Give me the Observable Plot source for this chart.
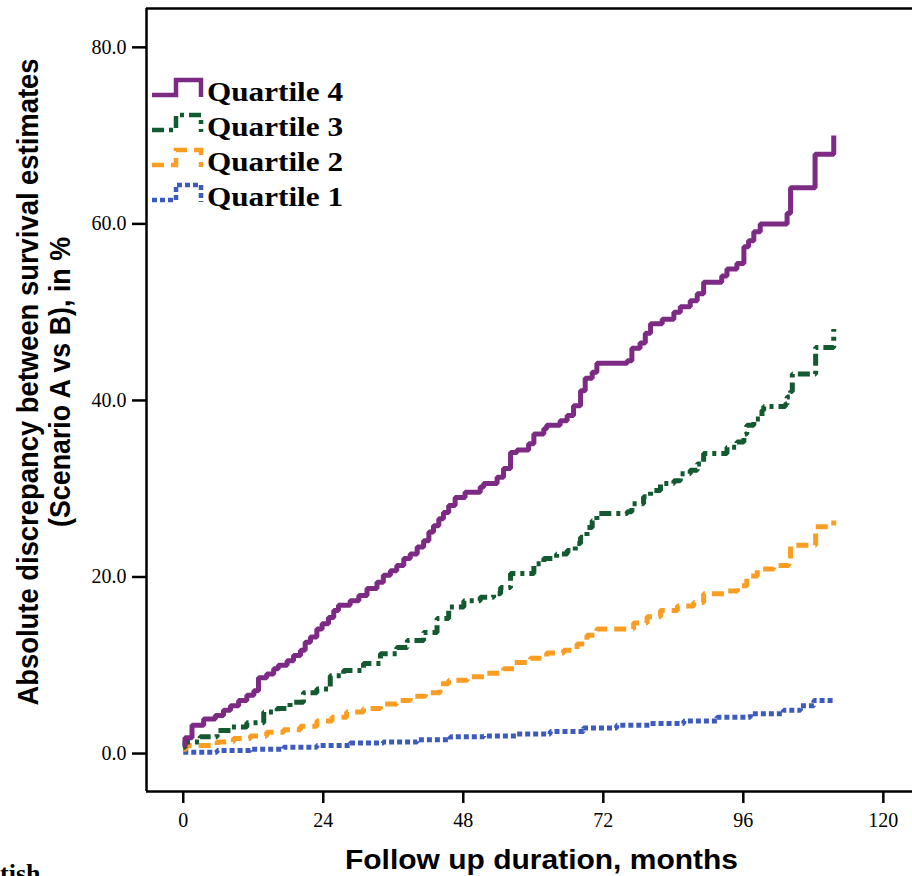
<!DOCTYPE html>
<html><head><meta charset="utf-8">
<script src="https://cdn.jsdelivr.net/npm/d3@7"></script>
<script src="https://cdn.jsdelivr.net/npm/@observablehq/plot@0.6"></script>
<style>html,body{margin:0;padding:0;background:#fff;overflow:hidden}</style>
</head><body><div id="chart"></div>
<script>
// ---- data ----
const seriesNames = ["Quartile 4", "Quartile 3", "Quartile 2", "Quartile 1"];
const seriesColors = ["#7d2a85", "#145a30", "#fa9d22", "#3d5bbf"];
const seriesDashes = ["none", "12,5,4,5", "12,7", "5,3"];

const q4Months = [0,0.3,1.5,3.5,5.5,6.9,8.1,9.5,10.9,12.1,12.9,14.3,15.5,16.3,17.8,18.9,20.1,20.9,21.8,22.9,23.8,24.9,25.8,26.6,28.6,30.1,31.5,33.2,34.3,35.5,36.6,37.8,38.9,40.1,41.2,42.1,42.9,43.8,44.6,45.5,46.6,48.3,50.9,51.5,53.8,54.9,56.1,57.2,59.2,60.1,61.8,62.3,64.6,65.8,66.9,68.1,68.9,70.1,70.9,76.1,76.9,78.3,79.2,80.1,82.1,84.1,85.2,86.9,88.1,89.2,92.3,93.2,94.9,96.1,96.9,97.8,98.9,103.5,104.1,108.3,111.5];
const q4Values = [0.9,1.8,3.2,3.9,4.3,4.9,5.4,6.0,6.6,7.1,8.6,9.0,9.6,10.0,10.5,11.1,11.7,12.6,13.2,14.1,14.7,15.4,16.2,16.8,17.3,17.9,18.7,19.4,20.2,20.7,21.3,22.1,22.6,23.4,24.1,25.1,25.8,26.6,27.3,28.1,29.0,29.6,30.2,30.6,31.3,32.3,34.1,34.4,35.1,36.2,36.8,37.2,37.7,38.3,39.4,41.1,42.5,43.2,44.2,44.5,45.9,46.5,47.6,48.7,49.2,50.0,50.6,51.3,52.1,53.4,54.1,54.9,55.5,57.4,58.1,59.1,60.0,61.2,64.1,67.9,70.0];

const q3Months = [0,0.3,2.9,5.8,8.1,10.9,13.8,16.1,18.3,20.6,22.9,25.2,27.5,30.9,33.8,36.6,38.4,41.2,43.5,45.5,48.1,50.9,53.2,54.4,56.1,60.1,61.8,64.0,65.8,67.2,68.1,69.2,70.1,70.9,76.1,76.9,78.9,80.1,81.8,84.1,85.2,86.9,88.1,89.2,93.2,94.9,96.1,96.6,97.8,99.2,99.5,103.2,103.5,104.1,104.4,108.4,111.5];
const q3Values = [0.7,1.3,1.9,2.6,3.0,3.5,4.7,5.1,5.8,6.9,7.3,8.8,9.4,10.2,11.3,12.0,12.8,13.7,15.3,16.6,17.3,17.7,18.1,18.8,20.4,21.5,22.1,22.6,23.0,23.8,24.5,25.6,26.4,27.2,27.4,28.3,29.1,29.8,30.6,30.9,31.7,32.1,32.8,34.0,34.7,35.3,36.2,37.2,37.9,38.9,39.3,39.6,40.4,41.0,43.0,46.0,48.1];

const q2Months = [0,0.5,5.8,8.6,11.5,14.3,17.2,20.1,22.9,25.5,28.0,30.9,33.8,36.6,38.9,41.5,44.0,45.5,48.7,52.1,54.9,56.7,59.5,62.3,65.2,67.5,69.2,70.9,77.2,79.5,81.8,84.7,87.5,89.2,92.7,95.0,96.6,98.4,101.2,103.8,104.1,108.4,111.5];
const q2Values = [0.5,0.9,1.3,1.7,2.0,2.4,2.7,3.1,3.7,4.1,4.7,5.1,5.6,6.0,6.5,6.9,7.9,8.3,8.7,9.1,9.6,10.3,10.8,11.4,11.7,12.4,13.4,14.1,14.8,15.5,16.2,16.7,17.1,18.1,18.4,19.0,20.1,20.9,21.3,22.1,23.6,25.7,26.4];

const q1Months = [0,5.8,11.5,17.2,22.9,28.6,34.3,40.1,45.8,51.5,57.2,62.9,68.6,74.3,80.1,85.8,91.5,97.2,102.9,105.8,108.1,111.5];
const q1Values = [0.15,0.34,0.5,0.7,0.9,1.2,1.3,1.55,1.9,2.0,2.2,2.5,2.9,3.2,3.4,3.7,4.1,4.5,4.9,5.4,6.0,6.2];

const xTicks = [0, 24, 48, 72, 96, 120];
const yTicks = [0, 20, 40, 60, 80];
const xDomain = [-6.3, 125];
const yDomain = [-4.3, 84.4];
const xTitle = "Follow up duration, months";
const yTitleLines = ["Absolute discrepancy between survival estimates", "(Scenario A vs B), in %"];
const cutText = "tish";

// ---- build table ----
const monthLists = [q4Months, q3Months, q2Months, q1Months];
const valueLists = [q4Values, q3Values, q2Values, q1Values];
const tables = monthLists.map((ms, i) => ms.map((m, j) => ({series: seriesNames[i], month: m, value: valueLists[i][j]})));

const lineMarks = [3, 2, 1, 0].map(i => Plot.line(tables[i], {
  x: "month", y: "value", curve: "step-after",
  stroke: seriesColors[i], strokeWidth: 5,
  strokeDasharray: seriesDashes[i], strokeLinejoin: "miter", strokeLinecap: "butt"
}));

const chart = Plot.plot({
  width: 912, height: 876,
  marginLeft: 146, marginRight: 0, marginTop: 8, marginBottom: 85,
  style: {background: "white", overflow: "visible", color: "black"},
  x: {domain: xDomain},
  y: {domain: yDomain},
  marks: [
    Plot.axisX(xTicks, {tickSize: 12, tickPadding: 9, fontSize: 20, fontFamily: "Liberation Serif", strokeWidth: 2.5, tickFormat: d => String(d), label: null}),
    Plot.axisY(yTicks, {tickSize: 14, tickPadding: 6, fontSize: 20, fontFamily: "Liberation Serif", strokeWidth: 2.5, tickFormat: d3.format(".1f"), label: null}),
    ...lineMarks,
    Plot.ruleX([xDomain[0]], {stroke: "black", strokeWidth: 2.5}),
    Plot.ruleY([yDomain[0], yDomain[1]], {stroke: "black", strokeWidth: 2.5})
  ]
});
document.getElementById("chart").appendChild(chart);

// ---- titles, legend (added to the SVG as text) ----
const svg = d3.select(chart);
svg.append("text")
  .attr("x", 345).attr("y", 869).attr("text-anchor", "start")
  .attr("font-family", "Liberation Sans, Arial, sans-serif").attr("font-weight", "bold")
  .attr("font-size", 28).attr("textLength", 393).attr("lengthAdjust", "spacingAndGlyphs")
  .text(xTitle);
const yt = [{cx: 38, len: 647}, {cx: 70, len: 290}];
yTitleLines.forEach((t, i) => {
  svg.append("text")
    .attr("transform", `translate(${yt[i].cx},382) rotate(-90)`)
    .attr("text-anchor", "middle")
    .attr("font-family", "Liberation Sans, Arial, sans-serif").attr("font-weight", "bold")
    .attr("font-size", 30).attr("textLength", yt[i].len).attr("lengthAdjust", "spacingAndGlyphs")
    .text(t);
});
const leg = svg.append("g");
seriesNames.forEach((name, i) => {
  const b = 100 + i * 35;
  leg.append("path")
    .attr("d", `M152,${b - 5}H176V${b - 20}H201V${b - 3}`)
    .attr("fill", "none").attr("stroke", seriesColors[i]).attr("stroke-width", 4.5)
    .attr("stroke-dasharray", seriesDashes[i]);
  leg.append("text")
    .attr("x", 207).attr("y", b + 1).attr("text-anchor", "start")
    .attr("font-family", "Liberation Serif, Times New Roman, serif").attr("font-weight", "bold")
    .attr("font-size", 28).attr("textLength", 136).attr("lengthAdjust", "spacingAndGlyphs")
    .text(name);
});
svg.append("text")
  .attr("x", 0).attr("y", 882).attr("text-anchor", "start")
  .attr("font-family", "Liberation Serif, Times New Roman, serif").attr("font-weight", "bold")
  .attr("font-size", 26)
  .text(cutText);
</script>
</body></html>
